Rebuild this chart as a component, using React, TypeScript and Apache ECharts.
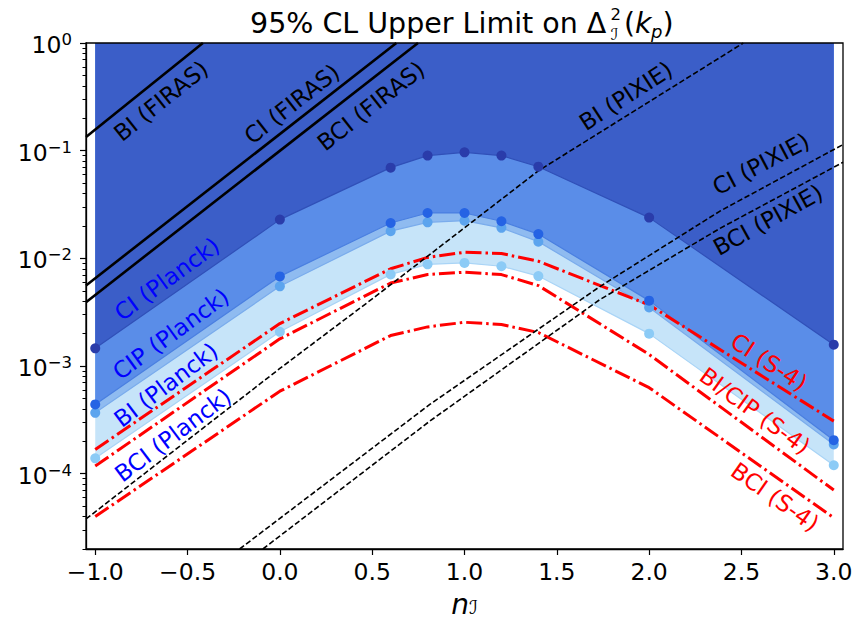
import React, { useEffect, useRef } from 'react';
import * as echarts from 'echarts';

// ---------- data ----------
const nPlanck = [-1, 0, 0.6, 0.8, 1.0, 1.2, 1.4, 2.0, 3.0];
const ciPlanck = [1.46e-3, 0.0229, 0.0696, 0.09, 0.0966, 0.09, 0.071, 0.0239, 1.58e-3];
const cipPlanck = [4.4e-4, 6.8e-3, 0.0213, 0.0264, 0.0264, 0.0221, 0.0168, 4.05e-3, 2.05e-4];
const biPlanck = [3.68e-4, 5.5e-3, 0.0179, 0.0216, 0.0224, 0.0192, 0.0143, 3.5e-3, 1.87e-4];
const bciPlanck = [1.39e-4, 2.08e-3, 7.1e-3, 8.8e-3, 9.08e-3, 8.45e-3, 6.85e-3, 2.0e-3, 1.2e-4];

const ciS4 = [1.68e-4, 2.48e-3, 8.0e-3, 0.0102, 0.0114, 0.0111, 9.4e-3, 3.7e-3, 3.08e-4];
const bicipS4 = [1.18e-4, 1.79e-3, 5.9e-3, 7.07e-3, 7.43e-3, 7.07e-3, 5.59e-3, 1.28e-3, 7.05e-5];
const bciS4 = [4.0e-5, 5.84e-4, 1.92e-3, 2.31e-3, 2.55e-3, 2.43e-3, 2.05e-3, 6.3e-4, 3.9e-5];

const biFirasN = [-1.05, -0.417];
const biFiras = [0.134, 1.0];
const ciFirasN = [-1.05, 0.631];
const ciFiras = [5.6e-3, 1.0];
const bciFirasN = [-1.05, 0.748];
const bciFiras = [3.92e-3, 1.0];

const biPixieN = [-1.05, 0, 0.5, 1.4, 2.51];
const biPixie = [3.8e-5, 9.5e-4, 4.2e-3, 0.065, 1.0];
const ciPixieN = [-0.218, 0.812, 1.733, 2.384, 3.05];
const ciPixie = [2.0e-5, 4.4e-4, 5.47e-3, 0.0275, 0.114];
const bciPixieN = [-0.092, 0.812, 1.733, 2.384, 3.05];
const bciPixie = [2.0e-5, 3.08e-4, 4.14e-3, 0.019, 0.078];

const xTicks = [-1, -0.5, 0, 0.5, 1, 1.5, 2, 2.5, 3];
const yMajor = [1e-4, 1e-3, 1e-2, 1e-1, 1];
const yMinor = [
  2e-5, 3e-5, 4e-5, 5e-5, 6e-5, 7e-5, 8e-5, 9e-5,
  2e-4, 3e-4, 4e-4, 5e-4, 6e-4, 7e-4, 8e-4, 9e-4,
  2e-3, 3e-3, 4e-3, 5e-3, 6e-3, 7e-3, 8e-3, 9e-3,
  2e-2, 3e-2, 4e-2, 5e-2, 6e-2, 7e-2, 8e-2, 9e-2,
  0.2, 0.3, 0.4, 0.5, 0.6, 0.7, 0.8, 0.9,
];

const FONT = 'DejaVu Sans';

const zip = (xs: number[], ys: number[]) => xs.map((x, i) => [x, ys[i]]);

const band = (name: string, vals: number[], fill: string, line: string, dot: string) => ({
  name,
  type: 'line',
  data: zip(nPlanck, vals),
  symbol: 'circle',
  symbolSize: 10,
  showSymbol: true,
  silent: true,
  itemStyle: { color: dot },
  lineStyle: { color: line, width: 1.2 },
  areaStyle: { color: fill, opacity: 1, origin: 'end' },
});

const redLine = (name: string, vals: number[]) => ({
  name,
  type: 'line',
  data: zip(nPlanck, vals),
  showSymbol: false,
  symbol: 'none',
  silent: true,
  lineStyle: { color: '#ff0000', width: 3, type: [16, 4, 2.5, 4] },
});

const blackLine = (name: string, xs: number[], vals: number[], dashed: boolean) => ({
  name,
  type: 'line',
  data: zip(xs, vals),
  showSymbol: false,
  symbol: 'none',
  silent: true,
  lineStyle: dashed
    ? { color: '#000', width: 1.6, type: [5.5, 2.6] }
    : { color: '#000', width: 2.6 },
});

const labelDefs: [string, number, number, number, string][] = [
  ['BI (FIRAS)', 161, 101, 38.7, '#000000'],
  ['CI (FIRAS)', 292, 104, 38, '#000000'],
  ['BCI (FIRAS)', 371, 106, 38, '#000000'],
  ['BI (PIXIE)', 626, 96, 33, '#000000'],
  ['CI (PIXIE)', 761, 164, 28, '#000000'],
  ['BCI (PIXIE)', 768, 220, 29, '#000000'],
  ['CI (Planck)', 167, 279, 36, '#0000ff'],
  ['CIP (Planck)', 171, 334, 36, '#0000ff'],
  ['BI (Planck)', 166, 385, 37, '#0000ff'],
  ['BCI (Planck)', 173, 435, 37, '#0000ff'],
  ['CI (S-4)', 769, 362, -33, '#ff0000'],
  ['BI/CIP (S-4)', 755, 411, -36, '#ff0000'],
  ['BCI (S-4)', 775, 497, -35, '#ff0000'],
];

export default function App() {
  const ref = useRef<HTMLDivElement>(null);
  useEffect(() => {
    const chart = echarts.init(ref.current!, null, { renderer: 'svg' });

    const txt = (text: string, x: number, y: number, size: number, extra: any = {}) => ({
      type: 'text',
      x,
      y,
      silent: true,
      style: {
        text,
        fontFamily: FONT,
        fontSize: size,
        fill: '#000',
        align: 'left',
        verticalAlign: 'middle',
        ...extra,
      },
    });

    const option: any = {
      animation: false,
      backgroundColor: '#ffffff',
      grid: { left: 86, right: 12, top: 43, bottom: 70, show: false, containLabel: false, outerBoundsMode: 'none' },
      xAxis: {
        type: 'value',
        min: -1.05,
        max: 3.05,
        name: '{i|n}{s|\u2110}',
        nameLocation: 'middle',
        nameGap: 43,
        nameTextStyle: {
          rich: {
            i: { fontFamily: FONT, fontStyle: 'italic', fontSize: 28, lineHeight: 24, color: '#000' },
            s: { fontFamily: FONT, fontSize: 19, lineHeight: 14, verticalAlign: 'bottom', color: '#000' },
          },
        },
        axisLine: { show: true, onZero: false, lineStyle: { color: '#000', width: 1.3 } },
        axisTick: { show: true, customValues: xTicks, length: 6, lineStyle: { color: '#000', width: 1.2 } },
        axisLabel: {
          customValues: xTicks,
          margin: 11,
          fontFamily: FONT,
          fontSize: 23.5,
          color: '#000',
          formatter: (v: number) => (v < 0 ? '\u2212' + Math.abs(v).toFixed(1) : v.toFixed(1)),
        },
        splitLine: { show: false },
      },
      yAxis: [
        {
          type: 'log',
          logBase: 10,
          min: 2e-5,
          max: 1,
          position: 'left',
          axisLine: { show: true, onZero: false, lineStyle: { color: '#000', width: 1.3 } },
          axisTick: { show: true, customValues: yMajor, length: 6, lineStyle: { color: '#000', width: 1.2 } },
          axisLabel: {
            customValues: yMajor,
            margin: 14,
            padding: [4, 0, 0, 0],
            fontFamily: FONT,
            fontSize: 23.5,
            color: '#000',
            formatter: (v: number) => {
              const e = Math.round(Math.log10(v));
              return '{b|10}{s|' + (e === 0 ? '0' : '\u2212' + -e) + '}';
            },
            rich: {
              b: { fontFamily: FONT, fontSize: 23.5, color: '#000', lineHeight: 28 },
              s: { fontFamily: FONT, fontSize: 16.5, color: '#000', lineHeight: 16, verticalAlign: 'top' },
            },
          },
          splitLine: { show: false },
          minorTick: { show: false },
        },
        {
          type: 'log',
          logBase: 10,
          min: 2e-5,
          max: 1,
          position: 'left',
          offset: 0,
          axisLine: { show: false, onZero: false },
          axisLabel: { show: false },
          axisTick: { show: true, customValues: yMinor, length: 3.5, lineStyle: { color: '#000', width: 1 } },
          splitLine: { show: false },
        },
      ],
      series: [
        band('BCI (Planck)', bciPlanck, '#c6e4f9', '#a9d4f6', '#8ccbf6'),
        band('BI (Planck)', biPlanck, '#8fbbf0', '#7aacec', '#5ca4ee'),
        band('CIP (Planck)', cipPlanck, '#5a8de8', '#4a7fe0', '#2563e4'),
        band('CI (Planck)', ciPlanck, '#3b5ec8', '#3050b8', '#2a3caa'),
        redLine('CI (S-4)', ciS4),
        redLine('BI/CIP (S-4)', bicipS4),
        redLine('BCI (S-4)', bciS4),
        blackLine('BI (FIRAS)', biFirasN, biFiras, false),
        blackLine('CI (FIRAS)', ciFirasN, ciFiras, false),
        blackLine('BCI (FIRAS)', bciFirasN, bciFiras, false),
        blackLine('BI (PIXIE)', biPixieN, biPixie, true),
        blackLine('CI (PIXIE)', ciPixieN, ciPixie, true),
        blackLine('BCI (PIXIE)', bciPixieN, bciPixie, true),
      ],
      graphic: [
        {
          type: 'rect',
          silent: true,
          z: 100,
          shape: { x: 86, y: 43, width: 757, height: 506 },
          style: { fill: 'none', stroke: '#000', lineWidth: 1.3 },
        },
        ...labelDefs.map(([text, x, y, rot, color]) => ({
          type: 'text',
          x,
          y,
          rotation: (rot * Math.PI) / 180,
          silent: true,
          z: 101,
          style: {
            text,
            fontFamily: FONT,
            fontSize: 23,
            fill: color,
            align: 'center',
            verticalAlign: 'middle',
          },
        })),
        txt('95% CL Upper Limit on \u0394', 250, 23, 28.5),
        txt('2\n\u2110', 610.5, 24.5, 16.5, { lineHeight: 19.4 }),
        txt('(', 624, 23, 28.5),
        txt('k', 635, 23, 28.5, { fontStyle: 'italic' }),
        txt('p', 651, 31, 18, { fontStyle: 'italic' }),
        txt(')', 662.5, 23, 28.5),
      ],
    };

    chart.setOption(option);
    return () => chart.dispose();
  }, []);

  return (
    <div
      ref={ref}
      style={{ position: 'absolute', left: 0, top: 0, width: 855, height: 619, background: '#fff' }}
    />
  );
}
